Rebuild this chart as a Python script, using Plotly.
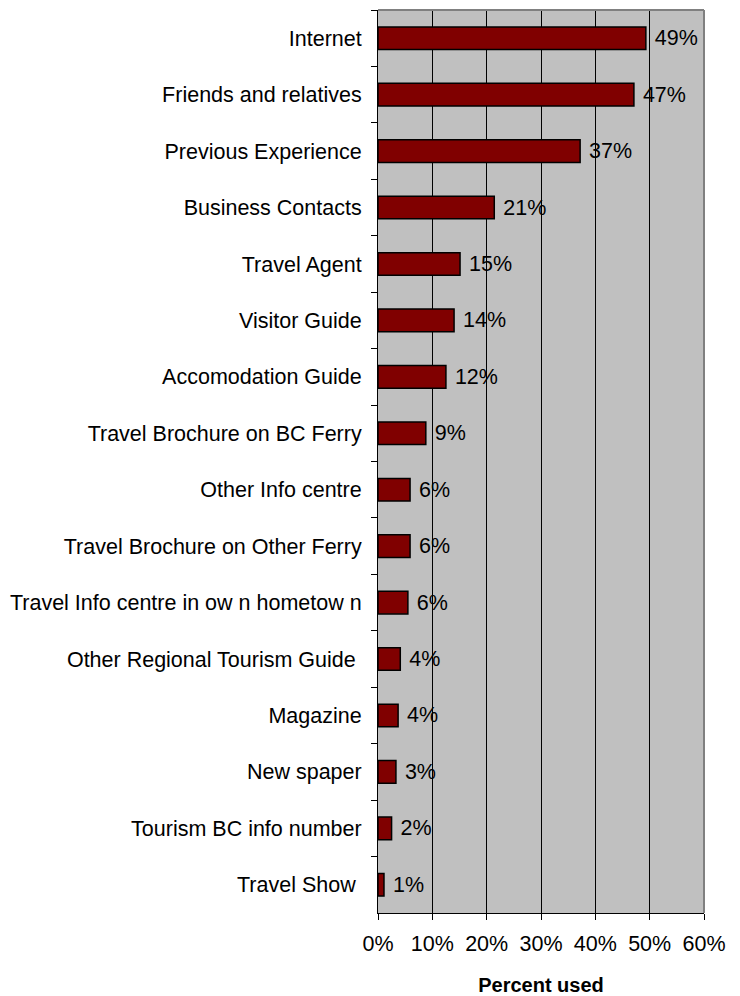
import plotly.graph_objects as go

categories = [
    "Internet", "Friends and relatives", "Previous Experience", "Business Contacts",
    "Travel Agent", "Visitor Guide", "Accomodation Guide", "Travel Brochure on BC Ferry",
    "Other Info centre", "Travel Brochure on Other Ferry",
    "Travel Info centre in ow n hometow n", "Other Regional Tourism Guide ",
    "Magazine", "New spaper", "Tourism BC info number", "Travel Show ",
]
values = [49.3, 47.1, 37.2, 21.4, 15.1, 14.0, 12.5, 8.8, 5.9, 5.9, 5.5, 4.1, 3.7, 3.3, 2.5, 1.1]
value_labels = ["49%", "47%", "37%", "21%", "15%", "14%", "12%", "9%", "6%", "6%", "6%",
                "4%", "4%", "3%", "2%", "1%"]
x_ticks = [0, 10, 20, 30, 40, 50, 60]
x_tick_labels = ["0%", "10%", "20%", "30%", "40%", "50%", "60%"]

FONT = "Liberation Sans, Arial, sans-serif"

fig = go.Figure(go.Bar(
    x=values, y=categories, orientation="h",
    marker=dict(color="#800000", line=dict(color="black", width=1.5)),
    width=0.4,
    text=value_labels, texttemplate=" %{text}", textposition="outside", cliponaxis=False,
    constraintext="none",
    textfont=dict(family=FONT, size=21.5, color="black"),
))

fig.update_layout(
    width=732, height=988,
    margin=dict(l=370, r=36, t=2, b=83, pad=0),
    plot_bgcolor="#C0C0C0", paper_bgcolor="white",
    font=dict(family=FONT, size=21.5, color="black"),
    showlegend=False,
    xaxis=dict(
        range=[0, 60], tickvals=x_ticks, ticktext=x_tick_labels,
        showgrid=True, gridcolor="black", gridwidth=1,
        showline=True, linecolor="black", linewidth=1,
        ticks="outside", ticklen=6, tickcolor="black",
        ticklabelstandoff=5,
        zeroline=False, automargin=False,
        title=dict(text="<b>Percent used</b>", font=dict(size=20), standoff=24),
    ),
    yaxis=dict(
        categoryorder="array", categoryarray=categories, autorange="reversed",
        showgrid=False, showline=True, linecolor="black", linewidth=1,
        ticks="outside", ticklen=6, tickcolor="black", tickson="boundaries",
        ticklabelstandoff=11, automargin=False,
    ),
    shapes=[
        dict(type="line", xref="paper", yref="paper", x0=0, x1=1, y0=1, y1=1,
             line=dict(color="#808080", width=2), layer="above"),
        dict(type="line", xref="paper", yref="paper", x0=1, x1=1, y0=0, y1=1,
             line=dict(color="#808080", width=2), layer="above"),
    ],
)

fig.write_html("out.html")
